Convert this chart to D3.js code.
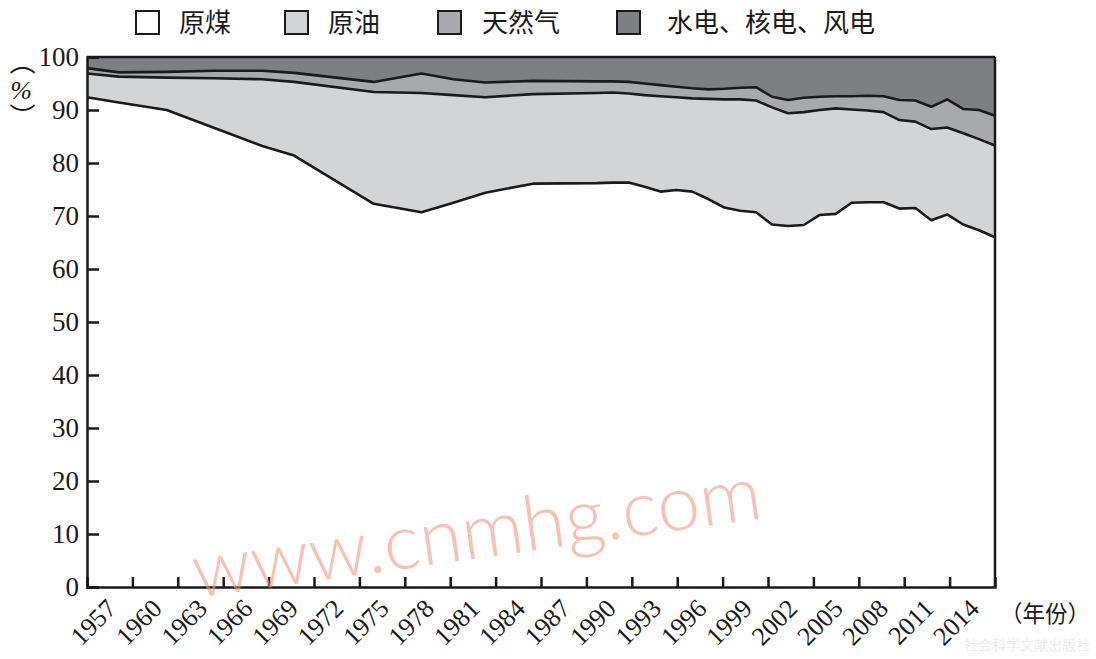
<!DOCTYPE html>
<html>
<head>
<meta charset="utf-8">
<script src="https://cdn.jsdelivr.net/npm/d3@7"></script>
<style>
  html, body { margin: 0; padding: 0; background: #fff; }
  svg { display: block; }
</style>
</head>
<body>
<svg id="chart" width="1096" height="659"></svg>
<script>
// ---------------- DATA (shares in %) ----------------
const years = [1957, 1959, 1962, 1965, 1968, 1970, 1975, 1978, 1980, 1982, 1985,
  1989, 1990, 1991, 1992, 1993, 1994, 1995, 1996, 1997, 1998, 1999,
  2000, 2001, 2002, 2003, 2004, 2005, 2006, 2007, 2008, 2009, 2010,
  2011, 2012, 2013, 2014];
const coal  = [92.4, 91.4, 90.0, 86.6, 83.2, 81.4, 72.3, 70.7, 72.5, 74.4, 76.1,
  76.2, 76.3, 76.3, 75.5, 74.6, 74.9, 74.6, 73.2, 71.6, 71.0, 70.7,
  68.4, 68.1, 68.3, 70.2, 70.4, 72.5, 72.6, 72.6, 71.4, 71.5, 69.2,
  70.3, 68.4, 67.3, 66.0];
const oil   = [4.5, 4.9, 6.1, 9.4, 12.6, 13.9, 21.1, 22.5, 20.3, 18.0, 16.9,
  17.0, 17.0, 16.8, 17.3, 18.0, 17.5, 17.6, 18.9, 20.4, 21.0, 21.1,
  22.1, 21.3, 21.3, 19.8, 19.9, 17.6, 17.3, 17.0, 16.7, 16.3, 17.2,
  16.4, 17.2, 17.2, 17.3];
const gas   = [1.0, 0.8, 1.1, 1.4, 1.6, 1.7, 1.9, 3.7, 3.0, 2.8, 2.5,
  2.2, 2.1, 2.2, 2.2, 2.1, 2.0, 1.9, 1.8, 2.0, 2.2, 2.5,
  2.0, 2.5, 2.7, 2.5, 2.3, 2.5, 2.8, 3.0, 3.8, 4.0, 4.2,
  5.3, 4.6, 5.5, 5.6];
const hydro = [2.1, 2.9, 2.8, 2.6, 2.6, 3.0, 4.7, 3.1, 4.2, 4.8, 4.5,
  4.6, 4.6, 4.7, 5.0, 5.3, 5.6, 5.9, 6.1, 6.0, 5.8, 5.7,
  7.5, 8.1, 7.7, 7.5, 7.4, 7.4, 7.3, 7.4, 8.1, 8.2, 9.4,
  8.0, 9.8, 10.0, 11.1];

const seriesNames = ["原煤", "原油", "天然气", "水电、核电、风电"];
const seriesKeys  = ["coal", "oil", "gas", "hydro"];
const xTickLabels = [1957, 1960, 1963, 1966, 1969, 1972, 1975, 1978, 1981, 1984, 1987,
  1990, 1993, 1996, 1999, 2002, 2005, 2008, 2011, 2014];
const yTicks = [0, 10, 20, 30, 40, 50, 60, 70, 80, 90, 100];

// ---------------- STYLE ----------------
const fills = { coal: "#ffffff", oil: "#d3d4d6", gas: "#a8a9ac", hydro: "#7e7f82" };
const ink = "#1a1a1a";
const serif = "'Liberation Serif', 'Times New Roman', serif";
const cjk = "'Noto Sans CJK SC', 'Noto Sans CJK JP', sans-serif";

const svg = d3.select("#chart");
const L = 87, R = 995, T = 57, B = 587;

// table for d3.stack
const table = years.map((y, i) => ({ year: y, coal: coal[i], oil: oil[i], gas: gas[i], hydro: hydro[i] }));
const stacked = d3.stack().keys(seriesKeys)(table);

const x = d3.scaleLinear().domain([years[0], years[years.length - 1]]).range([L, R]);
// the printed axis ticks are spaced on their own uniform grid
const xAxisScale = d3.scaleLinear().domain([1957, 2017]).range([L, R]);
const y = d3.scaleLinear().domain([0, 100]).range([B, T]);

const area = d3.area().x(d => x(d.data.year)).y0(d => y(d[0])).y1(d => y(d[1]));
const line = d3.line().x(d => x(d.data.year)).y(d => y(d[1]));

// areas
svg.append("g").selectAll("path").data(stacked).join("path")
  .attr("d", area)
  .attr("fill", d => fills[d.key]);

// boundary lines (top of coal, oil, gas)
svg.append("g").selectAll("path").data(stacked.slice(0, 3)).join("path")
  .attr("d", line)
  .attr("fill", "none")
  .attr("stroke", ink)
  .attr("stroke-width", 2.6)
  .attr("stroke-linejoin", "round");

// frame: top and right
svg.append("line").attr("x1", L).attr("x2", R).attr("y1", T).attr("y2", T)
  .attr("stroke", ink).attr("stroke-width", 2.5);
svg.append("line").attr("x1", R).attr("x2", R).attr("y1", T).attr("y2", B)
  .attr("stroke", ink).attr("stroke-width", 2.5);

// y axis (ticks inward)
const yAxis = svg.append("g").attr("transform", `translate(${L},0)`)
  .call(d3.axisRight(y).tickValues(yTicks).tickSize(12).tickFormat(""));
yAxis.select(".domain").attr("stroke", ink).attr("stroke-width", 2.5);
yAxis.selectAll(".tick line").attr("stroke", ink).attr("stroke-width", 2.5);

svg.append("g").selectAll("text").data(yTicks).join("text")
  .attr("x", 79).attr("y", d => y(d))
  .attr("dy", "0.34em")
  .attr("text-anchor", "end")
  .attr("font-family", serif)
  .attr("font-size", 27)
  .attr("fill", ink)
  .text(d => d);

// x axis (ticks inward)
const xAxis = svg.append("g").attr("transform", `translate(0,${B})`)
  .call(d3.axisTop(xAxisScale).tickValues(xTickLabels).tickSize(10).tickFormat(""));
xAxis.select(".domain").attr("stroke", ink).attr("stroke-width", 2.5);
xAxis.selectAll(".tick line").attr("stroke", ink).attr("stroke-width", 2.5);

svg.append("g").selectAll("text").data(xTickLabels).join("text")
  .attr("transform", d => `translate(${xAxisScale(d) + 31},610) rotate(-45)`)
  .attr("text-anchor", "end")
  .attr("font-family", serif)
  .attr("font-size", 26)
  .attr("fill", ink)
  .text(d => d);

// x axis unit
svg.append("text")
  .attr("x", 1000).attr("y", 622)
  .attr("font-family", cjk)
  .attr("font-size", 23)
  .attr("textLength", 90)
  .attr("lengthAdjust", "spacingAndGlyphs")
  .attr("fill", ink)
  .text("（年份）");

// y axis unit (vertical)
svg.append("text")
  .attr("transform", "translate(22,62) rotate(90)")
  .attr("text-anchor", "middle").attr("dy", "0.35em")
  .attr("font-family", cjk).attr("font-size", 26).attr("fill", ink)
  .text("（");
svg.append("text")
  .attr("x", 21).attr("y", 90).attr("dy", "0.35em")
  .attr("text-anchor", "middle")
  .attr("font-family", serif).attr("font-style", "italic").attr("font-size", 26).attr("fill", ink)
  .text("%");
svg.append("text")
  .attr("transform", "translate(22,116) rotate(90)")
  .attr("text-anchor", "middle").attr("dy", "0.35em")
  .attr("font-family", cjk).attr("font-size", 26).attr("fill", ink)
  .text("）");

// legend
const legendPos = [
  { sq: 136, tx: 179 },
  { sq: 285, tx: 328 },
  { sq: 438, tx: 482 },
  { sq: 617, tx: 667 }
];
const lg = svg.append("g");
seriesKeys.forEach((k, i) => {
  lg.append("rect")
    .attr("x", legendPos[i].sq).attr("y", 11).attr("width", 23).attr("height", 23)
    .attr("fill", fills[k]).attr("stroke", ink).attr("stroke-width", 2);
  lg.append("text")
    .attr("x", legendPos[i].tx).attr("y", 32)
    .attr("font-family", cjk).attr("font-size", 26).attr("fill", ink)
    .text(seriesNames[i]);
});

// watermark (on top, translucent)
svg.append("text")
  .attr("transform", "translate(196,598) rotate(-8)")
  .attr("font-family", "Lato, 'Open Sans', sans-serif")
  .attr("font-weight", 300)
  .attr("font-size", 77)
  .attr("fill", "#f19a85")
  .attr("opacity", 0.6)
  .text("www.cnmhg.com");

// faint publisher mark
svg.append("text")
  .attr("x", 1090).attr("y", 650).attr("text-anchor", "end")
  .attr("font-family", cjk).attr("font-size", 14).attr("fill", "#ececec")
  .text("社会科学文献出版社");
</script>
</body>
</html>
